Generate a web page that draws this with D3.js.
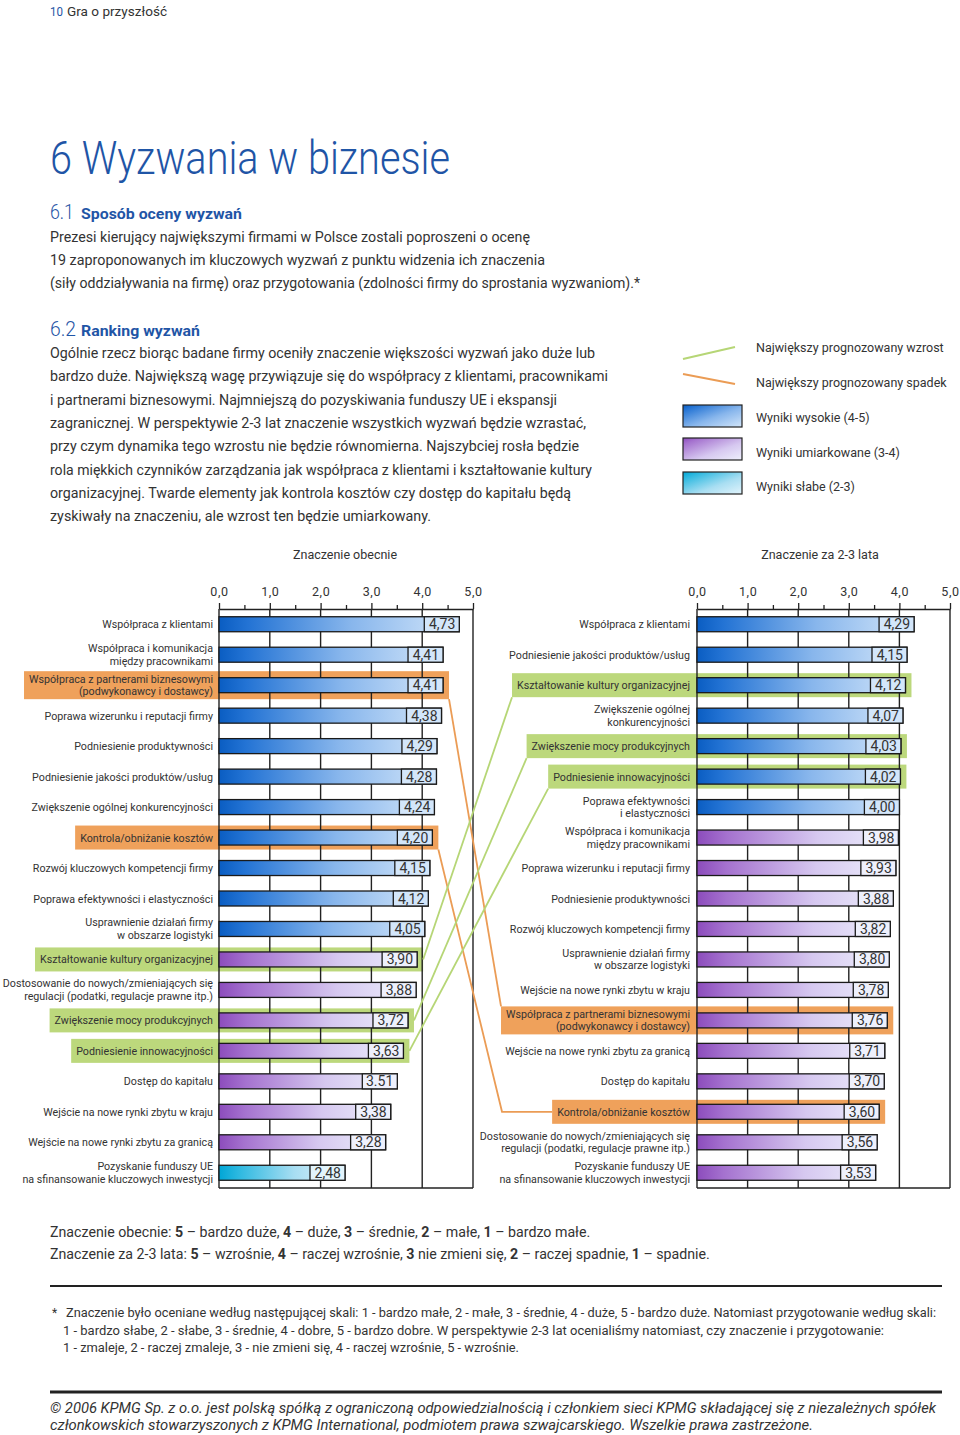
<!DOCTYPE html>
<html><head><meta charset="utf-8">
<script src="https://cdn.jsdelivr.net/npm/d3@7"></script>
<style>
body{margin:0;background:#fff}
svg{display:block}
text{font-family:Roboto,'Liberation Sans',sans-serif;fill:#333}
</style>
</head><body>
<svg id="c" width="960" height="1435"></svg>
<script>
// ---------- DATA ----------
const leftCategories = [
  "Współpraca z klientami",
  "Współpraca i komunikacja\nmiędzy pracownikami",
  "Współpraca z partnerami biznesowymi\n(podwykonawcy i dostawcy)",
  "Poprawa wizerunku i reputacji firmy",
  "Podniesienie produktywności",
  "Podniesienie jakości produktów/usług",
  "Zwiększenie ogólnej konkurencyjności",
  "Kontrola/obniżanie kosztów",
  "Rozwój kluczowych kompetencji firmy",
  "Poprawa efektywności i elastyczności",
  "Usprawnienie działań firmy\nw obszarze logistyki",
  "Kształtowanie kultury organizacyjnej",
  "Dostosowanie do nowych/zmieniających się\nregulacji (podatki, regulacje prawne itp.)",
  "Zwiększenie mocy produkcyjnych",
  "Podniesienie innowacyjności",
  "Dostęp do kapitału",
  "Wejście na nowe rynki zbytu w kraju",
  "Wejście na nowe rynki zbytu za granicą",
  "Pozyskanie funduszy UE\nna sfinansowanie kluczowych inwestycji"
];
const leftValues = [4.73,4.41,4.41,4.38,4.29,4.28,4.24,4.20,4.15,4.12,4.05,3.90,3.88,3.72,3.63,3.51,3.38,3.28,2.48];
const leftValueText = ["4,73","4,41","4,41","4,38","4,29","4,28","4,24","4,20","4,15","4,12","4,05","3,90","3,88","3,72","3,63","3.51","3,38","3,28","2,48"];
const leftHighlight = [null,null,"down",null,null,null,null,"down",null,null,null,"up",null,"up","up",null,null,null,null];

const rightCategories = [
  "Współpraca z klientami",
  "Podniesienie jakości produktów/usług",
  "Kształtowanie kultury organizacyjnej",
  "Zwiększenie ogólnej\nkonkurencyjności",
  "Zwiększenie mocy produkcyjnych",
  "Podniesienie innowacyjności",
  "Poprawa efektywności\ni elastyczności",
  "Współpraca i komunikacja\nmiędzy pracownikami",
  "Poprawa wizerunku i reputacji firmy",
  "Podniesienie produktywności",
  "Rozwój kluczowych kompetencji firmy",
  "Usprawnienie działań firmy\nw obszarze logistyki",
  "Wejście na nowe rynki zbytu w kraju",
  "Współpraca z partnerami biznesowymi\n(podwykonawcy i dostawcy)",
  "Wejście na nowe rynki zbytu za granicą",
  "Dostęp do kapitału",
  "Kontrola/obniżanie kosztów",
  "Dostosowanie do nowych/zmieniających się\nregulacji (podatki, regulacje prawne itp.)",
  "Pozyskanie funduszy UE\nna sfinansowanie kluczowych inwestycji"
];
const rightValues = [4.29,4.15,4.12,4.07,4.03,4.02,4.00,3.98,3.93,3.88,3.82,3.80,3.78,3.76,3.71,3.70,3.60,3.56,3.53];
const rightValueText = ["4,29","4,15","4,12","4,07","4,03","4,02","4,00","3,98","3,93","3,88","3,82","3,80","3,78","3,76","3,71","3,70","3,60","3,56","3,53"];
const rightHighlight = [null,null,"up",null,"up","up",null,null,null,null,null,null,null,"down",null,null,"down",null,null];

const tickValues = [0,1,2,3,4,5];
const tickLabels = ["0,0","1,0","2,0","3,0","4,0","5,0"];
const minorTicks = [0.5,1.5,2.5,3.5,4.5];

const legendItems = ["Największy prognozowany wzrost","Największy prognozowany spadek","Wyniki wysokie (4-5)","Wyniki umiarkowane (3-4)","Wyniki słabe (2-3)"];

// ---------- STYLE ----------
const BLUE = "#1f55a6";
const ORANGE = "#efa15b";
const GREEN = "#bcd87c";
const ORANGE_LINE = "#eb9c55";
const GREEN_LINE = "#b6d676";
const LABEL_SIZE = 10.7;
const svg = d3.select("#c");
const defs = svg.append("defs");
function grad(id, stops, diag){
  const g = defs.append("linearGradient").attr("id",id)
    .attr("x1",0).attr("y1",0).attr("x2",1).attr("y2",diag?1:0);
  stops.forEach(s=>g.append("stop").attr("offset",s[0]).attr("stop-color",s[1]));
}
const blueStops = [[0,"#0a5dc2"],[0.12,"#2373d4"],[0.55,"#88b6ec"],[1,"#d3e6fa"]];
const purpleStops = [[0,"#8c4cbc"],[0.15,"#a572cf"],[0.6,"#d6c8f0"],[1,"#eef0fc"]];
const cyanStops = [[0,"#00a6d6"],[0.15,"#2bb8e0"],[0.6,"#a8def2"],[1,"#e2f4fc"]];
grad("gBlue", blueStops); grad("gPurple", purpleStops); grad("gCyan", cyanStops);
grad("gBlueL", blueStops, true); grad("gPurpleL", purpleStops, true); grad("gCyanL", cyanStops, true);
function barFill(v){ return v>=4 ? "gBlue" : (v>=3 ? "gPurple" : "gCyan"); }
function endColor(v){ return v>=4 ? "#d3e6fa" : (v>=3 ? "#eef0fc" : "#e2f4fc"); }

function txt(x,y,s,o={}){
  const t = svg.append("text").attr("x",x).attr("y",y).text(s)
    .style("font-size",(o.size||14)+"px");
  if(o.fill) t.style("fill",o.fill);
  if(o.weight) t.style("font-weight",o.weight);
  if(o.italic) t.style("font-style","italic");
  if(o.anchor) t.attr("text-anchor",o.anchor);
  if(o.len) t.attr("textLength",o.len).attr("lengthAdjust","spacingAndGlyphs");
  return t;
}
function richLine(x,y,segs,size){
  const t = svg.append("text").attr("x",x).attr("y",y).style("font-size",size+"px");
  segs.forEach(s=>t.append("tspan").text(s[0]).style("font-weight",s[1]?"bold":"normal"));
  return t;
}

// ---------- PAGE TEXT ----------
txt(50,16,"10",{size:13,fill:BLUE,len:13});
txt(67,16,"Gra o przyszłość",{size:13,len:100});
txt(50,174,"6 Wyzwania w biznesie",{size:47,fill:BLUE,weight:300,len:400});
txt(50,219,"6.1",{size:20,fill:BLUE,weight:300,len:24});
txt(81,219,"Sposób oceny wyzwań",{size:15,fill:BLUE,weight:"bold",len:161});
const p1 = [
 ["Prezesi kierujący największymi firmami w Polsce zostali poproszeni o ocenę",480],
 ["19 zaproponowanych im kluczowych wyzwań z punktu widzenia ich znaczenia",495],
 ["(siły oddziaływania na firmę) oraz przygotowania (zdolności firmy do sprostania wyzwaniom).*",590]
];
p1.forEach((l,i)=>txt(50,242+i*23,l[0],{size:15,len:l[1]}));
txt(50,336,"6.2",{size:20,fill:BLUE,weight:300,len:26});
txt(81,336,"Ranking wyzwań",{size:15,fill:BLUE,weight:"bold",len:119});
const p2 = [
 ["Ogólnie rzecz biorąc badane firmy oceniły znaczenie większości wyzwań jako duże lub",545],
 ["bardzo duże. Największą wagę przywiązuje się do współpracy z klientami, pracownikami",558],
 ["i partnerami biznesowymi. Najmniejszą do pozyskiwania funduszy UE i ekspansji",507],
 ["zagranicznej. W perspektywie 2-3 lat znaczenie wszystkich wyzwań będzie wzrastać,",536],
 ["przy czym dynamika tego wzrostu nie będzie równomierna. Najszybciej rosła będzie",529],
 ["rola miękkich czynników zarządzania jak współpraca z klientami i kształtowanie kultury",542],
 ["organizacyjnej. Twarde elementy jak kontrola kosztów czy dostęp do kapitału będą",521],
 ["zyskiwały na znaczeniu, ale wzrost ten będzie umiarkowany.",381]
];
p2.forEach((l,i)=>txt(50,358+i*23.3,l[0],{size:15,len:l[1]}));

// ---------- LEGEND ----------
svg.append("line").attr("x1",683).attr("y1",359).attr("x2",735).attr("y2",347)
  .attr("stroke",GREEN_LINE).attr("stroke-width",2);
svg.append("line").attr("x1",683).attr("y1",374).attr("x2",735).attr("y2",384)
  .attr("stroke",ORANGE_LINE).attr("stroke-width",2);
[["gBlueL",405],["gPurpleL",438],["gCyanL",472]].forEach(b=>{
  svg.append("rect").attr("x",683).attr("y",b[1]).attr("width",59).attr("height",22)
    .attr("fill","url(#"+b[0]+")").attr("stroke","#222").attr("stroke-width",1.2);
});
[352,387,422,457,491].forEach((yy,i)=>txt(756,yy,legendItems[i],{size:12.5}));

// ---------- CHARTS ----------
const y = d3.scaleBand().domain(d3.range(19)).range([609,1188]);
const BAR_H = 15;
function rowC(i){ return y(i)+y.bandwidth()/2; }

function drawChart(x, cats, vals, vtext, hl, labelRight, title, titleX){
  const boxes = {};
  const gHl = svg.append("g"), gGrid = svg.append("g"), gBars = svg.append("g"), gLab = svg.append("g");
  txt(titleX,559,title,{size:12.5,anchor:"middle"});
  const ax = d3.axisTop(x).tickValues(tickValues).tickSize(6).tickPadding(7).tickSizeOuter(0)
    .tickFormat((d,i)=>tickLabels[i]);
  const ga = svg.append("g").attr("transform","translate(0,609)").call(ax);
  ga.select(".domain").attr("stroke","#222").attr("stroke-width",1.3);
  ga.selectAll(".tick line").attr("stroke","#222").attr("stroke-width",1.3);
  ga.selectAll(".tick text").style("font-size","12.5px").style("font-family","Roboto,'Liberation Sans',sans-serif")
    .style("fill","#333").style("letter-spacing","0.6px");
  const am = d3.axisTop(x).tickValues(minorTicks).tickSize(4).tickSizeOuter(0).tickFormat("");
  const gm = svg.append("g").attr("transform","translate(0,609)").call(am);
  gm.select(".domain").remove();
  gm.selectAll(".tick line").attr("stroke","#222").attr("stroke-width",1.3);
  gGrid.selectAll("line.g").data(tickValues).join("line")
    .attr("x1",d=>x(d)).attr("x2",d=>x(d)).attr("y1",609).attr("y2",1188)
    .attr("stroke","#222").attr("stroke-width",1.4);
  gGrid.append("line").attr("x1",x(0)).attr("x2",x(5)).attr("y1",1188).attr("y2",1188)
    .attr("stroke","#222").attr("stroke-width",1.4);
  cats.forEach((c,i)=>{
    const lines = c.split("\n");
    const t = gLab.append("text").attr("text-anchor","end").style("font-size",LABEL_SIZE+"px");
    const cy = rowC(i);
    if(lines.length===1){
      t.append("tspan").attr("x",labelRight).attr("y",cy+4).text(lines[0]);
    } else {
      t.append("tspan").attr("x",labelRight).attr("y",cy-2.5).text(lines[0]);
      t.append("tspan").attr("x",labelRight).attr("y",cy+10).text(lines[1]);
    }
    if(hl[i]){
      const bb = t.node().getBBox();
      const h = lines.length===1 ? 12 : 14;
      const b = {x0: bb.x-5, x1: x(vals[i])+6, y0: cy-h, y1: cy+h, cy: cy, type: hl[i]};
      boxes[c] = b;
      gHl.append("rect").attr("x",b.x0).attr("y",b.y0).attr("width",b.x1-b.x0).attr("height",b.y1-b.y0)
        .attr("fill", hl[i]==="up" ? GREEN : ORANGE);
    }
  });
  vals.forEach((v,i)=>{
    const top = rowC(i)-BAR_H/2;
    gBars.append("rect").attr("x",x(0)).attr("y",top).attr("width",x(v)-x(0)).attr("height",BAR_H)
      .attr("fill","url(#"+barFill(v)+")").attr("stroke","#1a1a1a").attr("stroke-width",1.3);
    gBars.append("rect").attr("x",x(v)-35).attr("y",top).attr("width",35).attr("height",BAR_H)
      .attr("fill",endColor(v)).attr("stroke","#1a1a1a").attr("stroke-width",1.3);
    gBars.append("text").attr("x",x(v)-4).attr("y",rowC(i)+5).attr("text-anchor","end")
      .style("font-size","14px").text(vtext[i]);
  });
  return {boxes, gLab};
}

const xL = d3.scaleLinear().domain([0,5]).range([219,473]);
const xR = d3.scaleLinear().domain([0,5]).range([697,950]);
const L = drawChart(xL, leftCategories, leftValues, leftValueText, leftHighlight, 213, "Znaczenie obecnie", 345);
const R = drawChart(xR, rightCategories, rightValues, rightValueText, rightHighlight, 690, "Znaczenie za 2-3 lata", 820);

// ---------- CONNECTORS ----------
const gCon = svg.append("g");
const downRight = Object.values(R.boxes).filter(b=>b.type==="down");
const elbowX = d3.min(downRight, b=>b.x0);
Object.keys(L.boxes).forEach(k=>{
  const a = L.boxes[k], b = R.boxes[k];
  if(!b) return;
  let pts;
  if(a.type==="up"){
    pts = [[a.x1,a.cy],[b.x0,b.y1]];
  } else {
    if(b.x0 - elbowX > 5) pts = [[a.x1,a.y1],[elbowX+1,b.cy],[b.x0,b.cy]];
    else pts = [[a.x1,a.y1],[b.x0,b.y0]];
  }
  gCon.append("path").attr("d",d3.line()(pts)).attr("fill","none")
    .attr("stroke", a.type==="up"?GREEN_LINE:ORANGE_LINE).attr("stroke-width",1.8);
});

// ---------- BOTTOM TEXT ----------
richLine(50,1237,[["Znaczenie obecnie: ",0],["5",1],[" – bardzo duże, ",0],["4",1],[" – duże, ",0],["3",1],[" – średnie, ",0],["2",1],[" – małe, ",0],["1",1],[" – bardzo małe.",0]],14.2);
richLine(50,1259,[["Znaczenie za 2-3 lata: ",0],["5",1],[" – wzrośnie, ",0],["4",1],[" – raczej wzrośnie, ",0],["3",1],[" nie zmieni się, ",0],["2",1],[" – raczej spadnie, ",0],["1",1],[" – spadnie.",0]],14.2);
svg.append("line").attr("x1",50).attr("x2",942).attr("y1",1286).attr("y2",1286).attr("stroke","#222").attr("stroke-width",2);
txt(52,1317,"*",{size:12});
txt(66,1317,"Znaczenie było oceniane według następującej skali: 1 - bardzo małe, 2 - małe, 3 - średnie, 4 - duże, 5 - bardzo duże. Natomiast przygotowanie według skali:",{size:12.5,len:870});
txt(63,1335,"1 - bardzo słabe,  2 - słabe, 3 -  średnie, 4 - dobre, 5 - bardzo dobre. W perspektywie 2-3 lat ocenialiśmy natomiast, czy znaczenie i przygotowanie:",{size:12.5,len:821});
txt(63,1352,"1 - zmaleje, 2 - raczej zmaleje, 3 - nie zmieni się, 4 - raczej wzrośnie, 5 - wzrośnie.",{size:12.5,len:456});
svg.append("line").attr("x1",50).attr("x2",942).attr("y1",1392).attr("y2",1392).attr("stroke","#222").attr("stroke-width",3);
txt(50,1413,"© 2006 KPMG Sp. z o.o. jest polską spółką z ograniczoną odpowiedzialnością i członkiem sieci KPMG składającej się z niezależnych spółek",{size:14,italic:true,len:886});
txt(50,1430,"członkowskich stowarzyszonych z KPMG International, podmiotem prawa szwajcarskiego. Wszelkie prawa zastrzeżone.",{size:14,italic:true,len:763});
</script>
</body></html>
